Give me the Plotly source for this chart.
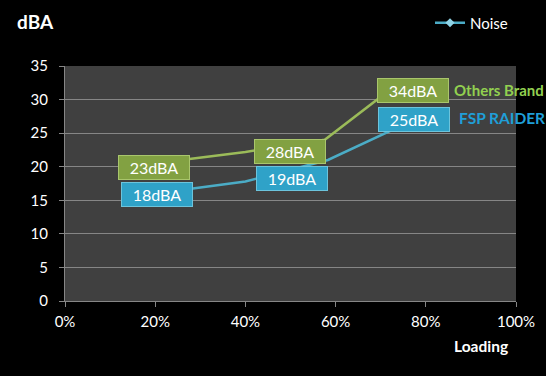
import plotly.graph_objects as go

# ---- data ----
x_ticks = [0, 20, 40, 60, 80, 100]
x_tick_labels = ["0%", "20%", "40%", "60%", "80%", "100%"]
y_ticks = [0, 5, 10, 15, 20, 25, 30, 35]

# connecting lines (as drawn in the picture)
others_x = [20, 40, 57.6, 69.4, 77]
others_y = [20.5, 22.2, 24.0, 30.1, 31.4]
fsp_x = [20, 40, 58.3, 72, 77]
fsp_y = [16.0, 17.8, 21.0, 25.3, 27.0]

# value boxes
others_labels = ["23dBA", "28dBA", "34dBA"]
others_box_x = [19.7, 49.9, 77.2]
others_box_y = [19.9, 22.3, 31.4]
fsp_labels = ["18dBA", "19dBA", "25dBA"]
fsp_box_x = [20.3, 50.3, 77.3]
fsp_box_y = [15.9, 18.2, 27.0]

GREEN = "#9bbb59"
BLUE = "#4bacc6"
FONT = "Lato"

fig = go.Figure()
fig.add_trace(go.Scatter(x=others_x, y=others_y, mode="lines",
                         line=dict(color=GREEN, width=2.5), showlegend=False,
                         hoverinfo="skip"))
fig.add_trace(go.Scatter(x=fsp_x, y=fsp_y, mode="lines",
                         line=dict(color=BLUE, width=2.5), showlegend=False,
                         hoverinfo="skip"))
# legend entry
fig.add_trace(go.Scatter(x=[None], y=[None], mode="lines+markers", name="Noise",
                         line=dict(color=BLUE, width=2.5),
                         marker=dict(symbol="diamond", size=7, color="#8fd3e6",
                                     line=dict(width=0))))

annotations = []
for t, x, y in zip(others_labels, others_box_x, others_box_y):
    annotations.append(dict(x=x, y=y, xref="x", yref="y", text=t, showarrow=False,
                            font=dict(family=FONT, size=16, color="white"),
                            bgcolor="#82a142", bordercolor="#a9c66c", borderwidth=1,
                            borderpad=1, width=68, height=21, yshift=0))
for t, x, y in zip(fsp_labels, fsp_box_x, fsp_box_y):
    annotations.append(dict(x=x, y=y, xref="x", yref="y", text=t, showarrow=False,
                            font=dict(family=FONT, size=16, color="white"),
                            bgcolor="#2fa2c8", bordercolor="#6cc4dc", borderwidth=1,
                            borderpad=1, width=68, height=21, yshift=0))

annotations += [
    dict(x=452, y=90, xref="paper", yref="paper", text="<b>Others Brand</b>",
         showarrow=False, xanchor="left", yanchor="middle",
         font=dict(family=FONT, size=15, color="#92d050")),
    dict(x=457, y=118, xref="paper", yref="paper", text="<b>FSP RAIDER</b>",
         showarrow=False, xanchor="left", yanchor="middle",
         font=dict(family=FONT, size=15.5, color="#1f9fd8")),
    dict(x=15, y=22, xref="paper", yref="paper", text="<b>dBA</b>",
         showarrow=False, xanchor="left", yanchor="middle",
         font=dict(family=FONT, size=19, color="white")),
    dict(x=481, y=346, xref="paper", yref="paper", text="<b>Loading</b>",
         showarrow=False, xanchor="center", yanchor="middle",
         font=dict(family=FONT, size=15.5, color="white")),
]

# convert pixel positions of the free text to paper coordinates
L, R, T, B = 65, 30, 66, 75
W, H = 546, 376
pw, ph = W - L - R, H - T - B
for a in annotations:
    if a["xref"] == "paper":
        a["x"] = (a["x"] - L) / pw
        a["y"] = (H - B - a["y"]) / ph

fig.update_layout(
    width=W, height=H,
    margin=dict(l=L, r=R, t=T, b=B, autoexpand=False),
    paper_bgcolor="black",
    plot_bgcolor="#404040",
    font=dict(family=FONT, size=15, color="white"),
    annotations=annotations,
    legend=dict(x=(430 - L) / pw, y=(H - B - 23) / ph, xanchor="left", yanchor="middle",
                bgcolor="rgba(0,0,0,0)", font=dict(family=FONT, size=15, color="white"),
                itemwidth=30),
    xaxis=dict(range=[0, 100], tickvals=x_ticks, ticktext=x_tick_labels,
               showgrid=False, zeroline=False, showline=True, linecolor="#868686",
               linewidth=1, ticks="outside", ticklen=5, tickcolor="#868686",
               ticklabelstandoff=2,
               tickfont=dict(family=FONT, size=15, color="white"), fixedrange=True),
    yaxis=dict(range=[0, 35], tickvals=y_ticks, showgrid=True, gridcolor="#868686",
               gridwidth=1, zeroline=False, showline=True, linecolor="#868686",
               linewidth=1, ticks="outside", ticklen=5, tickcolor="#868686",
               ticklabelstandoff=8,
               tickfont=dict(family=FONT, size=15, color="white"), fixedrange=True),
)

fig.write_html("out.html", config={"displayModeBar": False},
               post_script="document.body.style.margin='0';document.body.style.background='black';")
